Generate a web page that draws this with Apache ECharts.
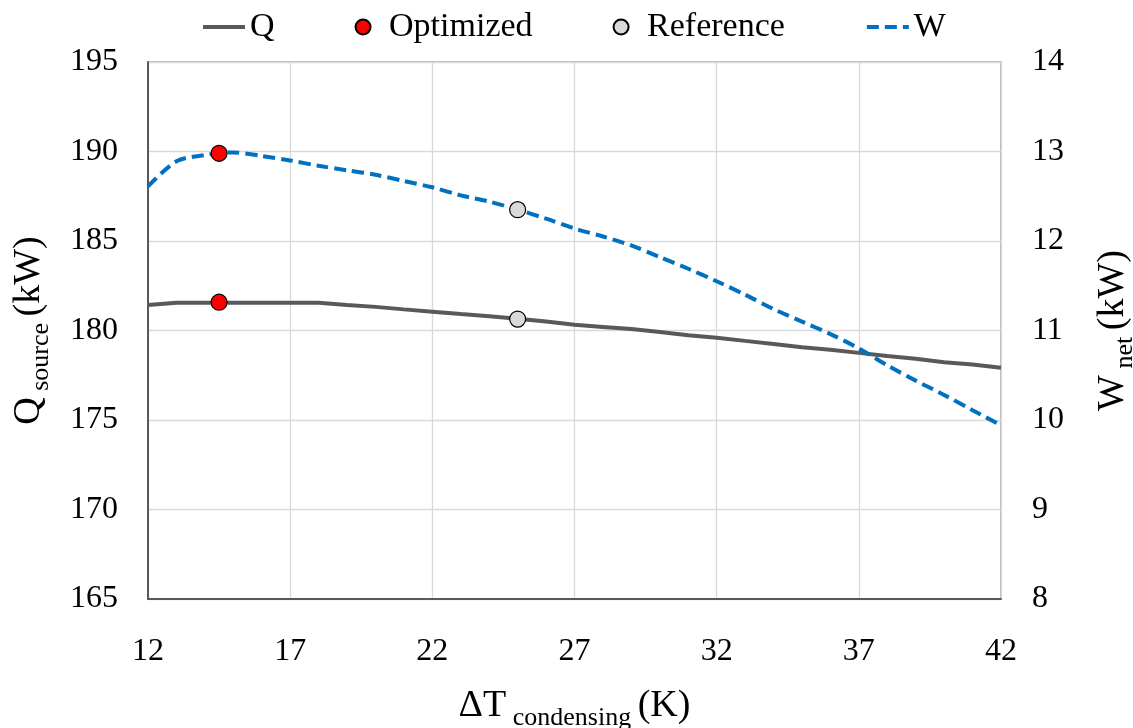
<!DOCTYPE html>
<html>
<head>
<meta charset="utf-8">
<script src="https://cdn.jsdelivr.net/npm/echarts@6/dist/echarts.min.js"></script>
<style>
  html, body { margin: 0; padding: 0; background: #fff; }
  #chart { width: 1133px; height: 728px; }
</style>
</head>
<body>
<div id="chart"></div>
<script>
// Condensing temperature difference (K)
const dT = [12, 13, 14, 15, 16, 17, 18, 19, 20, 21, 22, 23, 24, 25, 26, 27,
            28, 29, 30, 31, 32, 33, 34, 35, 36, 37, 38, 39, 40, 41, 42];
// Heat taken from the source (kW)
const qSource = [181.42, 181.55, 181.55, 181.55, 181.55, 181.55, 181.55, 181.42,
                 181.32, 181.18, 181.05, 180.92, 180.80, 180.66, 180.50, 180.32,
                 180.20, 180.08, 179.92, 179.74, 179.60, 179.42, 179.25, 179.07,
                 178.92, 178.75, 178.57, 178.42, 178.23, 178.10, 177.92];
// Net power (kW)
const wNet = [12.61, 12.89, 12.96, 12.99, 12.95, 12.90, 12.84, 12.79, 12.74, 12.67,
              12.60, 12.51, 12.44, 12.35, 12.25, 12.14, 12.05, 11.95, 11.82, 11.69,
              11.55, 11.40, 11.24, 11.10, 10.96, 10.80, 10.61, 10.44, 10.28, 10.11, 9.94];
// Operating points: [dT, Q, W]
const optimizedPoint = [14.5, 181.58, 12.98];
const referencePoint = [25.0, 180.64, 12.35];
// Axis ranges
const xRange = [12, 42, 5];
const qRange = [165, 195, 5];
const wRange = [8, 14, 1];

const FONT = 'Liberation Serif';
const chart = echarts.init(document.getElementById('chart'));

const pair = (xs, ys) => xs.map((x, i) => [x, ys[i]]);
const richTitle = {
  m: { fontSize: 38, lineHeight: 44, verticalAlign: 'top', fontFamily: FONT, color: '#000' },
  s: { fontSize: 26, lineHeight: 26, verticalAlign: 'bottom', fontFamily: FONT, color: '#000' }
};
const tickLabel = { color: '#000', fontSize: 32, fontFamily: FONT };

chart.setOption({
  animation: false,
  backgroundColor: '#fff',
  textStyle: { fontFamily: FONT },
  legend: {
    top: 5,
    left: 196,
    itemWidth: 42,
    itemHeight: 15,
    itemGap: 80,
    textStyle: { fontSize: 34, fontFamily: FONT, color: '#000' },
    data: [
      { name: 'Q', itemStyle: { opacity: 0 }, lineStyle: { width: 4 } },
      'Optimized',
      'Reference',
      { name: 'W', itemStyle: { opacity: 0 }, lineStyle: { width: 4 } }
    ]
  },
  grid: {
    left: 148, right: 132, top: 62, bottom: 129,
    outerBoundsMode: 'none',
    containLabel: false,
    show: true, borderColor: '#a6a6a6', borderWidth: 1.5, backgroundColor: 'transparent'
  },
  xAxis: {
    type: 'value',
    min: xRange[0], max: xRange[1], interval: xRange[2],
    name: '{m|ΔT}{s| condensing }{m|(K)}',
    nameLocation: 'middle',
    nameGap: 88,
    nameTextStyle: { rich: richTitle },
    axisLine: { show: true, onZero: false, lineStyle: { color: '#595959', width: 2 } },
    axisTick: { show: false },
    axisLabel: Object.assign({ margin: 37 }, tickLabel),
    splitLine: { show: true, lineStyle: { color: '#d9d9d9', width: 1.3 } }
  },
  yAxis: [
    {
      type: 'value',
      min: qRange[0], max: qRange[1], interval: qRange[2],
      name: '{m|Q}{s| source }{m|(kW)}',
      nameLocation: 'middle',
      nameRotate: 90,
      nameGap: 94,
      nameTextStyle: { rich: richTitle },
      axisLine: { show: true, lineStyle: { color: '#595959', width: 2 } },
      axisTick: { show: false },
      axisLabel: Object.assign({ margin: 30 }, tickLabel),
      splitLine: { show: true, lineStyle: { color: '#d9d9d9', width: 1.3 } }
    },
    {
      type: 'value',
      position: 'right',
      min: wRange[0], max: wRange[1], interval: wRange[2],
      name: '{m|W}{s| net }{m|(kW)}',
      nameLocation: 'middle',
      nameRotate: 90,
      nameGap: 93,
      nameTextStyle: { rich: richTitle },
      axisLine: { show: false },
      axisTick: { show: false },
      axisLabel: Object.assign({ margin: 31 }, tickLabel),
      splitLine: { show: false }
    }
  ],
  series: [
    {
      name: 'Q', type: 'line', yAxisIndex: 0,
      data: pair(dT, qSource),
      symbol: 'none',
      color: '#595959',
      lineStyle: { color: '#595959', width: 4 },
      z: 2
    },
    {
      name: 'W', type: 'line', yAxisIndex: 1,
      data: pair(dT, wNet),
      symbol: 'none', smooth: 0.3,
      color: '#0070C0',
      lineStyle: { color: '#0070C0', width: 4, type: [12, 6] },
      z: 2
    },
    {
      name: 'Optimized', type: 'scatter', yAxisIndex: 0,
      data: [[optimizedPoint[0], optimizedPoint[1]]],
      symbolSize: 16,
      itemStyle: { color: '#ff0000', borderColor: '#000', borderWidth: 1.2, opacity: 1 },
      z: 5
    },
    {
      name: 'Optimized', type: 'scatter', yAxisIndex: 1,
      data: [[optimizedPoint[0], optimizedPoint[2]]],
      symbolSize: 16,
      itemStyle: { color: '#ff0000', borderColor: '#000', borderWidth: 1.2, opacity: 1 },
      z: 5
    },
    {
      name: 'Reference', type: 'scatter', yAxisIndex: 0,
      data: [[referencePoint[0], referencePoint[1]]],
      symbolSize: 16,
      itemStyle: { color: '#d9d9d9', borderColor: '#000', borderWidth: 1.2, opacity: 1 },
      z: 5
    },
    {
      name: 'Reference', type: 'scatter', yAxisIndex: 1,
      data: [[referencePoint[0], referencePoint[2]]],
      symbolSize: 16,
      itemStyle: { color: '#d9d9d9', borderColor: '#000', borderWidth: 1.2, opacity: 1 },
      z: 5
    }
  ]
});
</script>
</body>
</html>
